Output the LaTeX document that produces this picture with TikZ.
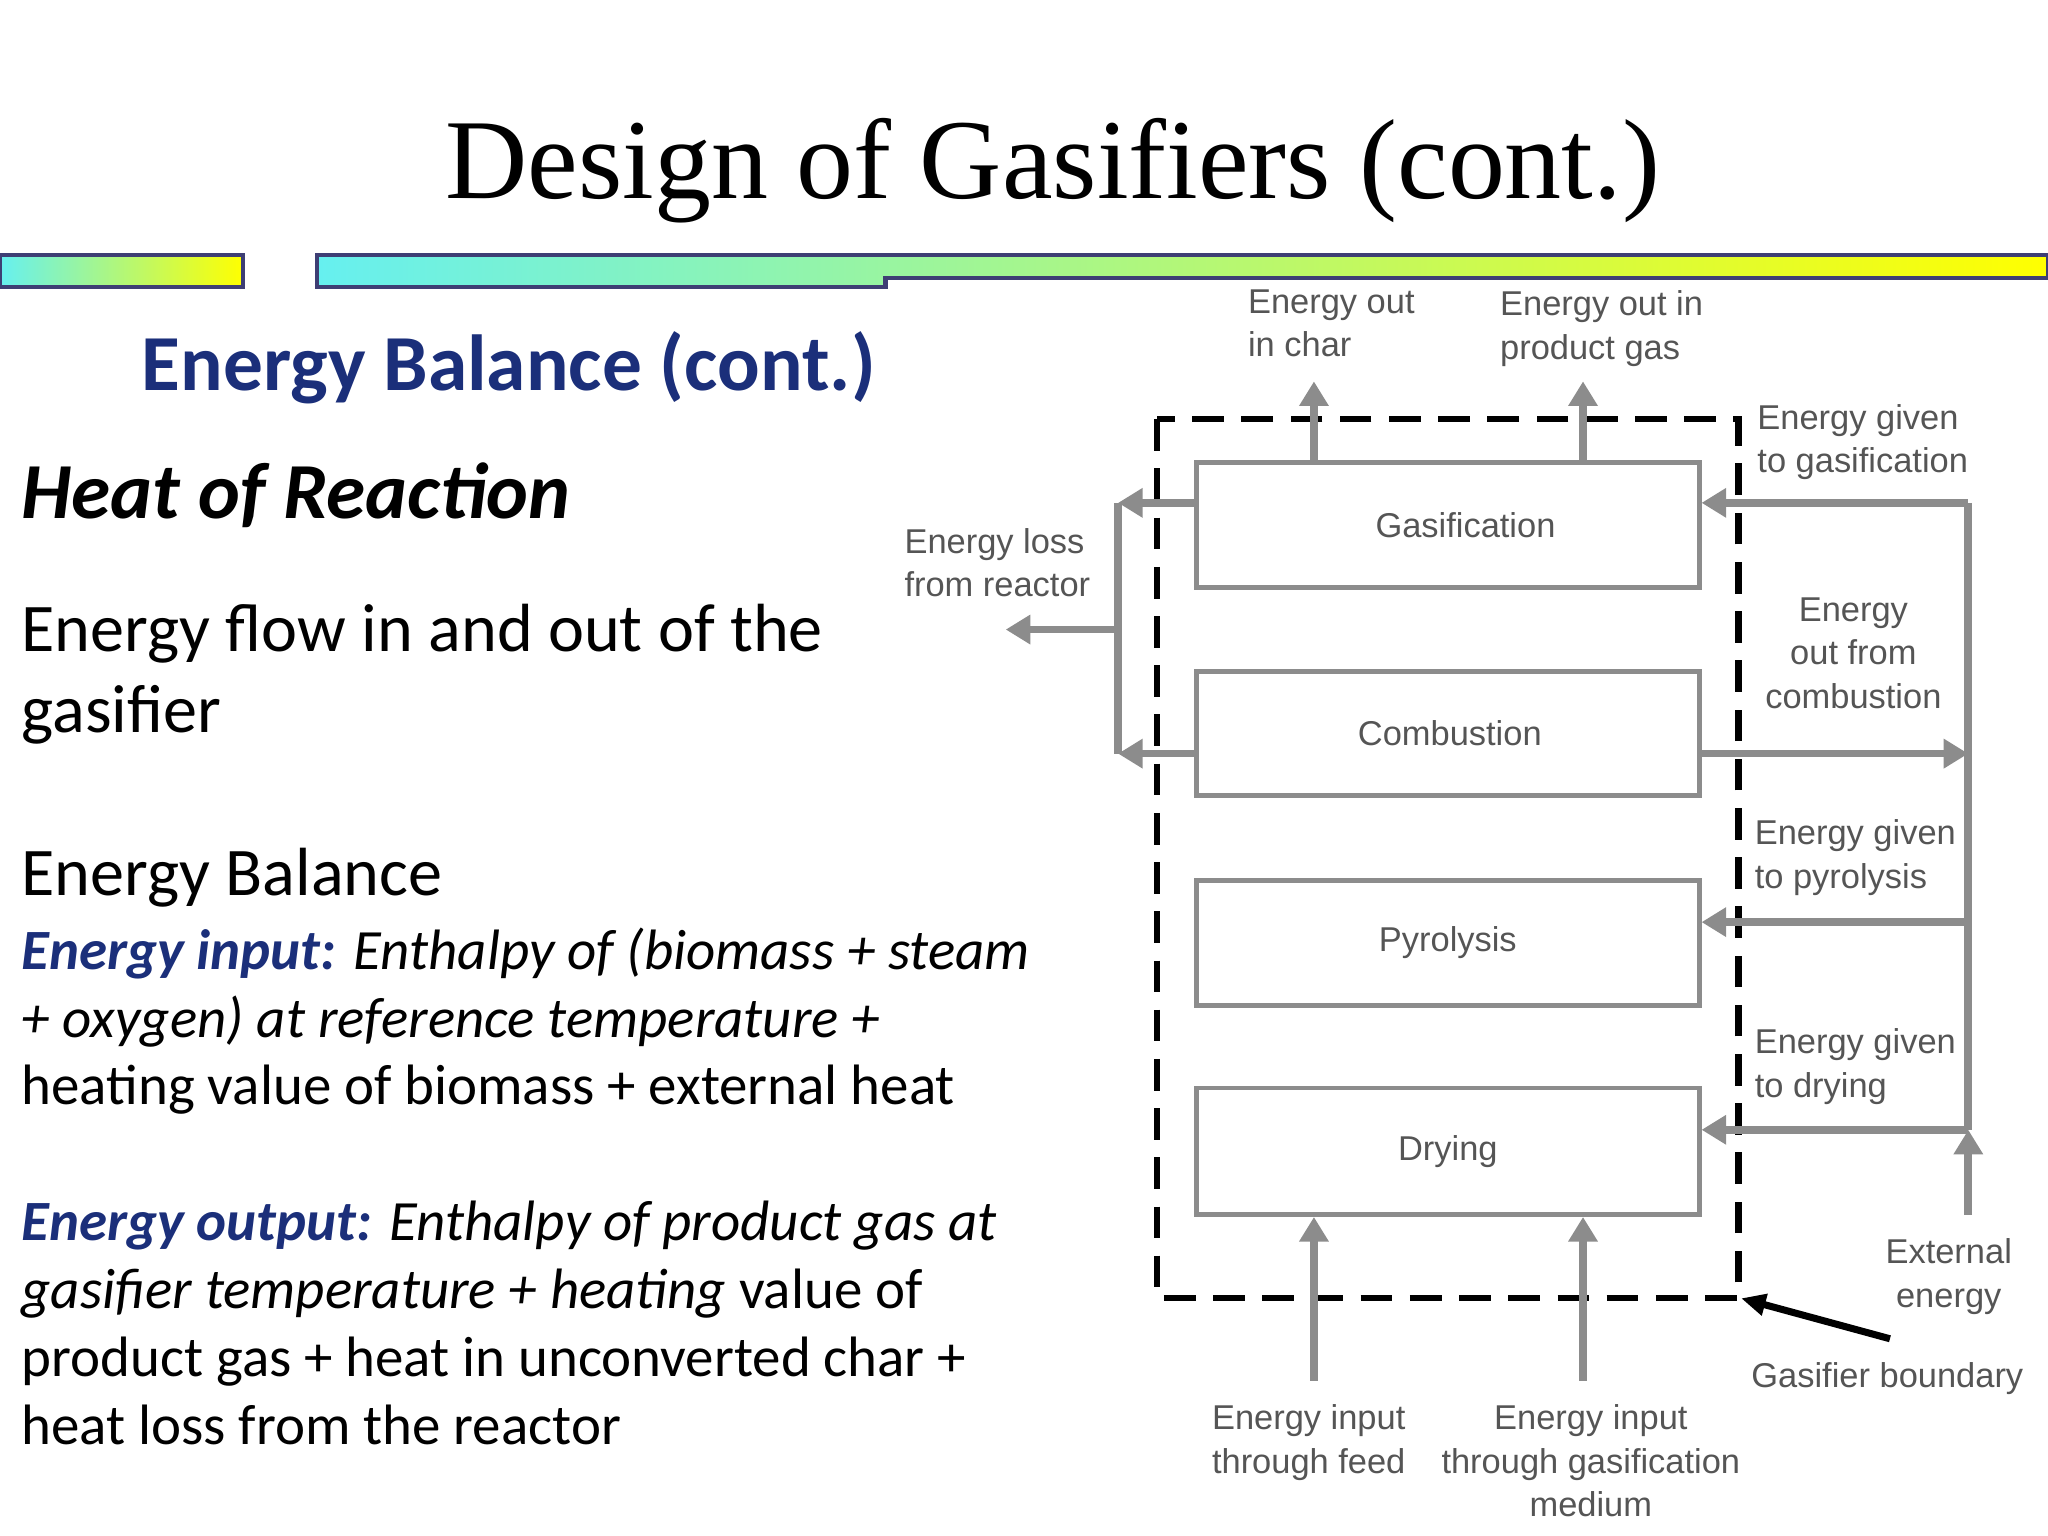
\documentclass[tikz,border=0pt]{standalone}
\usepackage{fontspec}
\setmainfont{Carlito}
\newfontfamily\ttl{Liberation Serif}
\newfontfamily\lab{Liberation Sans}
\usetikzlibrary{arrows.meta}
\definecolor{navy}{HTML}{1B2F7A}
\definecolor{lg}{HTML}{555555}
\definecolor{ar}{HTML}{8C8C8C}
\begin{document}
\begin{tikzpicture}[x=0.013061cm,y=-0.013061cm,
  lbl/.style={font=\lab\fontsize{9.8}{12.4}\selectfont,text=lg,inner sep=0pt},
  box/.style={draw=ar,line width=1.3pt,inner sep=0pt},
  arr/.style={draw=ar,line width=2.2pt,-{Triangle[length=7pt,width=8pt]}},
  ln/.style={draw=ar,line width=2.2pt},
  body/.style={anchor=base west,inner sep=0pt,font=\fontsize{16.2}{20}\selectfont},
  bar/.style={draw=blue!30!gray!70!black,line width=1.2pt,left color=cyan!80!teal!60,right color=yellow}]
\useasboundingbox (0,0) rectangle (1568,1176);
\node[font=\ttl\fontsize{32.4}{36}\selectfont,anchor=base] (title) at (806,152) {Design of Gasifiers (cont.)};
\path[bar] (0,195) rectangle (186,220);
\path[bar] (243,195) -- (1568,195) -- (1568,213) -- (678,213) -- (678,220) -- (243,220) -- cycle;
% left text
\node[body,font=\bfseries\fontsize{22.6}{26}\selectfont,text=navy] (h1) at (108,299) {Energy Balance (cont.)};
\node[body,font=\bfseries\itshape\fontsize{22.6}{26}\selectfont] (h2) at (16,397) {Heat of Reaction};
\node[body,font=\fontsize{19.4}{22}\selectfont] (t1) at (16,499) {Energy flow in and out of the};
\node[body,font=\fontsize{19.4}{22}\selectfont] (t2) at (16,561) {gasifier};
\node[body,font=\fontsize{19.4}{22}\selectfont] (t3) at (16,686) {Energy Balance};
\node[body] (a1) at (16,742) {\textbf{\itshape\color{navy}Energy input:} \itshape Enthalpy of (biomass + steam};
\node[body] (a2) at (16,794) {\itshape + oxygen) at reference temperature +};
\node[body] (a3) at (16,846) {heating value of biomass + external heat};
\node[body] (b1) at (16,950) {\textbf{\itshape\color{navy}Energy output:} \itshape Enthalpy of product gas at};
\node[body] (b2) at (16,1002) {\itshape gasifier temperature + heating \upshape value of};
\node[body] (b3) at (16,1054) {product gas + heat in unconverted char +};
\node[body] (b4) at (16,1106) {heat loss from the reactor};
% diagram
\draw[line width=1.8pt,dash pattern=on 9pt off 5pt] (886,321) rectangle (1331,994);
\node[box,minimum width=385*0.013061cm,minimum height=96*0.013061cm] (gas) at (1108.5,402) {};
\node[box,minimum width=385*0.013061cm,minimum height=95*0.013061cm] (com) at (1108.5,561.5) {};
\node[box,minimum width=385*0.013061cm,minimum height=96*0.013061cm] (pyr) at (1108.5,722) {};
\node[box,minimum width=385*0.013061cm,minimum height=97*0.013061cm] (dry) at (1108.5,881.5) {};
\node[lbl] at (1122,402) {Gasification};
\node[lbl] at (1110,561.5) {Combustion};
\node[lbl] at (pyr) {Pyrolysis};
\node[lbl] at (dry) {Drying};
\coordinate (r1) at (1507,385); \coordinate (r2) at (1507,577);
\coordinate (r3) at (1507,706); \coordinate (r4) at (1507,865);
\coordinate (ext) at (1507,930);
\coordinate (l1) at (856,385); \coordinate (l2) at (856,577);
\coordinate (lm) at (856,482); \coordinate (lo) at (770,482);
\coordinate (tc) at (1006,292); \coordinate (tp) at (1212,292);
\coordinate (bf) at (1006,1057); \coordinate (bg) at (1212,1057);
\coordinate (gb1) at (1447,1025); \coordinate (gb2) at (1333,994);
\path[ln] (r1) -- (r4);
\path[arr] (r1) -- (r1 -| gas.east);
\path[arr] (com.east |- r2) -- (r2);
\path[arr] (r3) -- (r3 -| pyr.east);
\path[arr] (r4) -- (r4 -| dry.east);
\path[arr] (ext) -- (r4);
\path[ln] (l1) -- (l2);
\path[arr] (gas.west |- l1) -- (l1);
\path[arr] (com.west |- l2) -- (l2);
\path[arr] (lm) -- (lo);
\path[arr] (gas.north -| tc) -- (tc);
\path[arr] (gas.north -| tp) -- (tp);
\path[arr] (bf) -- (dry.south -| bf);
\path[arr] (bg) -- (dry.south -| bg);
\draw[line width=2pt,-{Triangle[length=7pt,width=6pt]}] (gb1) -- (gb2);
\node[lbl,align=left,anchor=north west] (L1) at (955,221) {Energy out\\in char};
\node[lbl,align=left,anchor=north west] (L2) at (1148,222) {Energy out in\\product gas};
\node[lbl,align=left,anchor=north west] (L3) at (1345,309) {Energy given\\to gasification};
\node[lbl,align=left,anchor=north west] (L4) at (692,404) {Energy loss\\from reactor};
\node[lbl,align=center,anchor=north] (L5) at (1419,457) {Energy\\out from\\combustion};
\node[lbl,align=left,anchor=north west] (L6) at (1343,627) {Energy given\\to pyrolysis};
\node[lbl,align=left,anchor=north west] (L7) at (1343,787) {Energy given\\to drying};
\node[lbl,align=center,anchor=north] (L8) at (1492,948) {External\\energy};
\node[lbl,anchor=north] (L9) at (1445,1043) {Gasifier boundary};
\node[lbl,align=center,anchor=north] (L10) at (1002,1075) {Energy input\\through feed};
\node[lbl,align=center,anchor=north] (L11) at (1218,1075) {Energy input\\through gasification\\medium};
\end{tikzpicture}
\end{document}
